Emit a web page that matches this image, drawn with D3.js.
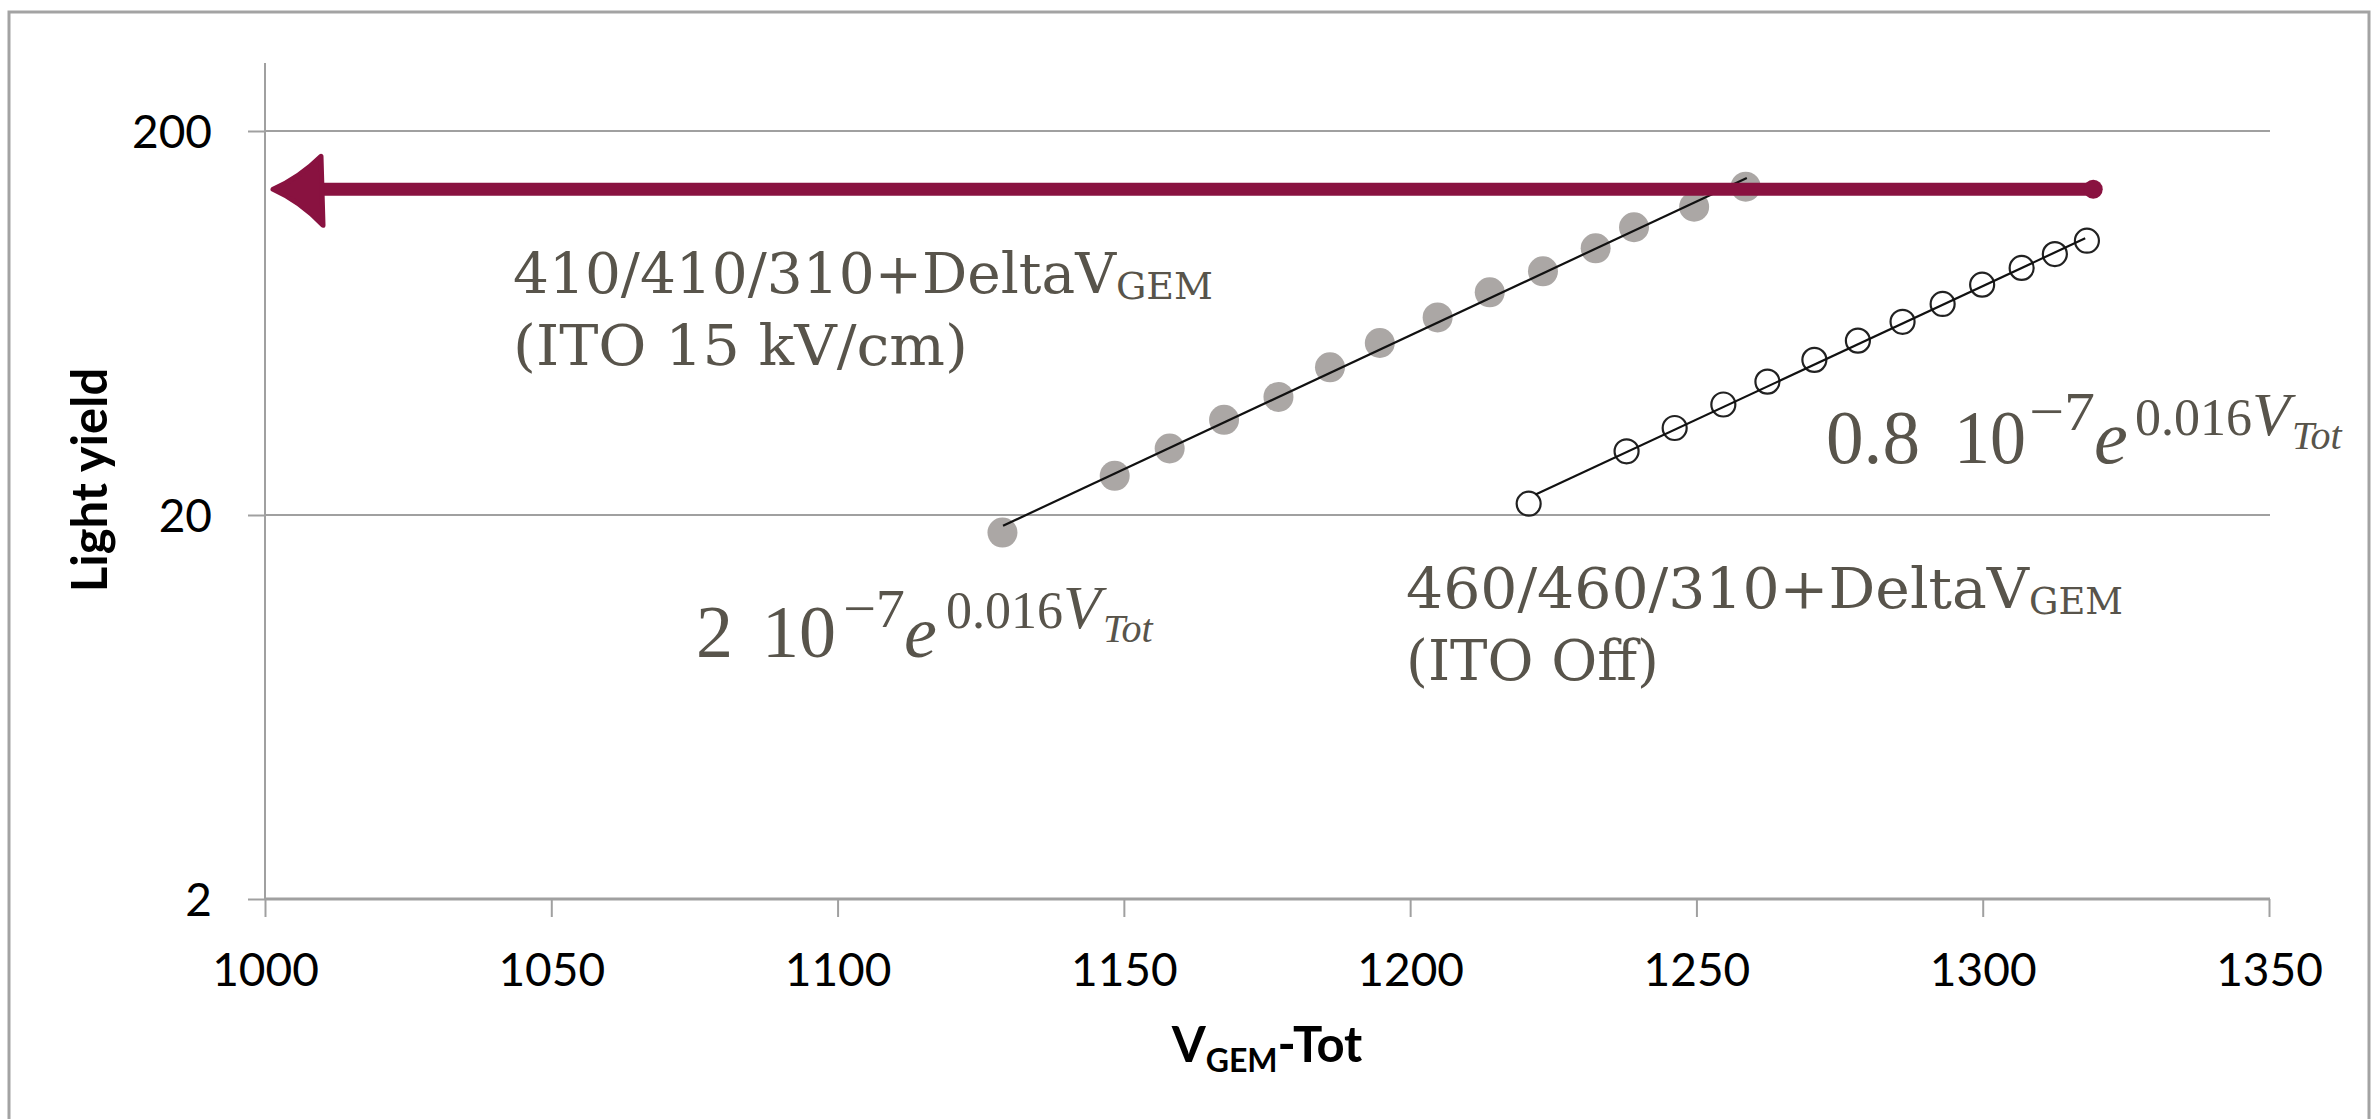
<!DOCTYPE html>
<html>
<head>
<meta charset="utf-8">
<script src="https://cdn.jsdelivr.net/npm/d3@7"></script>
<style>
  html, body { margin: 0; padding: 0; background: #fff; }
  svg { display: block; }
</style>
</head>
<body>
<svg id="chart" width="2377" height="1119"></svg>
<script>
// ---- data ----
const xTicks = [1000, 1050, 1100, 1150, 1200, 1250, 1300, 1350];
const yTicks = [2, 20, 200];

// 410/410/310 + DeltaV_GEM, ITO at 15 kV/cm (filled grey markers)
const ito15Volt  = [1128.8, 1148.4, 1158.0, 1167.5, 1177.0, 1186.0, 1194.7, 1204.8, 1213.9, 1223.2, 1232.4, 1239.1, 1249.6, 1258.6];
const ito15Yield = [18.0, 25.3, 29.8, 35.4, 40.6, 48.5, 56.1, 65.4, 76.0, 86.2, 99.0, 112.3, 127.0, 143.2];

// 460/460/310 + DeltaV_GEM, ITO off (open markers)
const itoOffVolt  = [1220.7, 1237.8, 1246.2, 1254.7, 1262.4, 1270.6, 1278.2, 1286.0, 1293.0, 1299.9, 1306.8, 1312.6, 1318.2];
const itoOffYield = [21.4, 29.3, 33.7, 38.8, 44.5, 50.7, 56.9, 63.7, 70.9, 79.6, 88.0, 95.6, 103.6];

// exponential trend lines (straight on the log axis), end points
const ito15FitVolt   = [1128.9, 1258.8];
const ito15FitYield  = [18.75, 150.9];
const itoOffFitVolt  = [1221.9, 1317.9];
const itoOffFitYield = [22.6, 105.1];

// hand-drawn arrow: light-yield level and voltage span (head at the low end)
const arrowYield = 141;
const arrowVolt  = [1320, 1001.4];

// ---- layout ----
const svg = d3.select("#chart");
const W = 2377, H = 1119;
const plotTop = 63;
const x = d3.scaleLinear().domain([xTicks[0], xTicks[xTicks.length - 1]]).range([265, 2269]);
const y = d3.scaleLog().domain([yTicks[0], yTicks[yTicks.length - 1]]).range([899, 131]);

const axisGrey = "#a0a0a0";
const noteColor = "#58544b";
const sansFont = "Lato, 'Open Sans', sans-serif";
const slabFont = "'DejaVu Serif', serif";
const mathFont = "'Liberation Serif', 'Times New Roman', serif";

svg.append("rect").attr("width", W).attr("height", H).attr("fill", "#fff");

// outer frame
svg.append("rect")
  .attr("x", 9).attr("y", 12).attr("width", 2360).attr("height", 1130)
  .attr("fill", "none").attr("stroke", "#a3a3a3").attr("stroke-width", 3);

// horizontal grid lines (the lowest one doubles as the x axis)
svg.append("g").selectAll("line").data(yTicks).join("line")
  .attr("x1", x.range()[0]).attr("x2", x.range()[1] + 1)
  .attr("y1", d => y(d)).attr("y2", d => y(d))
  .attr("stroke", axisGrey)
  .attr("stroke-width", d => d === yTicks[0] ? 3 : 2);

// vertical axis line
svg.append("line")
  .attr("x1", x.range()[0]).attr("x2", x.range()[0])
  .attr("y1", plotTop).attr("y2", y(yTicks[0]))
  .attr("stroke", axisGrey).attr("stroke-width", 2);

// x axis ticks + labels
const gx = svg.append("g")
  .attr("transform", `translate(0,${y(yTicks[0])})`)
  .call(d3.axisBottom(x).tickValues(xTicks).tickFormat(d3.format("d"))
    .tickSize(18).tickSizeOuter(0).tickPadding(36));
gx.select(".domain").remove();
gx.selectAll(".tick line").attr("stroke", axisGrey).attr("stroke-width", 2);
gx.selectAll(".tick text")
  .attr("fill", "#000").attr("font-family", sansFont).attr("font-size", 46);

// y axis ticks + labels
const gy = svg.append("g")
  .attr("transform", `translate(${x.range()[0]},0)`)
  .call(d3.axisLeft(y).tickValues(yTicks).tickFormat(d3.format("d"))
    .tickSize(17).tickSizeOuter(0).tickPadding(36));
gy.select(".domain").remove();
gy.selectAll(".tick line").attr("stroke", axisGrey).attr("stroke-width", 2);
gy.selectAll(".tick text")
  .attr("fill", "#000").attr("font-family", sansFont).attr("font-size", 46)
  .attr("dy", "0.36em");

// axis titles
svg.append("text")
  .attr("transform", `translate(107,480) rotate(-90)`)
  .attr("text-anchor", "middle")
  .attr("font-family", sansFont).attr("font-weight", 700).attr("font-size", 49)
  .attr("fill", "#000")
  .text("Light yield");

const xTitle = svg.append("text")
  .attr("x", (x.range()[0] + x.range()[1]) / 2).attr("y", 1062)
  .attr("text-anchor", "middle")
  .attr("font-family", sansFont).attr("font-weight", 700).attr("font-size", 49)
  .attr("fill", "#000");
xTitle.append("tspan").text("V");
xTitle.append("tspan").attr("font-size", 32).attr("dy", 10).text("GEM");
xTitle.append("tspan").attr("dy", -10).text("-Tot");

// ---- series ----
const ito15 = ito15Volt.map((v, i) => [v, ito15Yield[i]]);
const itoOff = itoOffVolt.map((v, i) => [v, itoOffYield[i]]);

svg.append("g").selectAll("circle").data(ito15).join("circle")
  .attr("cx", d => x(d[0])).attr("cy", d => y(d[1])).attr("r", 15)
  .attr("fill", "#aba7a5");

svg.append("g").selectAll("circle").data(itoOff).join("circle")
  .attr("cx", d => x(d[0])).attr("cy", d => y(d[1])).attr("r", 12)
  .attr("fill", "none").attr("stroke", "#222").attr("stroke-width", 2.2);

const line = d3.line().x(d => x(d[0])).y(d => y(d[1]));
[[ito15FitVolt, ito15FitYield], [itoOffFitVolt, itoOffFitYield]].forEach(([vs, ys]) => {
  svg.append("path")
    .datum(vs.map((v, i) => [v, ys[i]]))
    .attr("d", line)
    .attr("fill", "none").attr("stroke", "#111").attr("stroke-width", 2.2);
});

// ---- arrow ----
const arrowColor = "#891240";
const ay = y(arrowYield);
const xTail = x(arrowVolt[0]);
const xTip = x(arrowVolt[1]);
svg.append("line")
  .attr("x1", xTip + 30).attr("x2", xTail - 4)
  .attr("y1", ay).attr("y2", ay)
  .attr("stroke", arrowColor).attr("stroke-width", 13).attr("stroke-linecap", "round");
svg.append("circle").attr("cx", xTail - 4).attr("cy", ay).attr("r", 9.5).attr("fill", arrowColor);
svg.append("path")
  .attr("d", `M${xTip},${ay} Q${xTip + 27},${ay - 12} ${xTip + 48},${ay - 33}
              L${xTip + 50},${ay + 36} Q${xTip + 27},${ay + 12} ${xTip},${ay} Z`)
  .attr("fill", arrowColor).attr("stroke", arrowColor)
  .attr("stroke-width", 5).attr("stroke-linejoin", "round");

// ---- annotations ----
function slabLabel(x0, base, main, mainW, subX, subW, second, secondW) {
  const g = svg.append("g").attr("fill", noteColor).attr("font-family", slabFont);
  g.append("text").attr("x", x0).attr("y", base).attr("font-size", 56)
    .attr("textLength", mainW).attr("lengthAdjust", "spacingAndGlyphs").text(main);
  g.append("text").attr("x", subX).attr("y", base + 6).attr("font-size", 38)
    .attr("textLength", subW).attr("lengthAdjust", "spacingAndGlyphs").text("GEM");
  g.append("text").attr("x", x0).attr("y", base + 72).attr("font-size", 56)
    .attr("textLength", secondW).attr("lengthAdjust", "spacingAndGlyphs").text(second);
}
slabLabel(513, 293, "410/410/310+DeltaV", 603, 1116, 97, "(ITO 15 kV/cm)", 455);
slabLabel(1406, 608, "460/460/310+DeltaV", 623, 2029, 94, "(ITO Off)", 253);

// fit formula: coefficient · 10^-7 · e^(0.016 V_Tot)
function formula(x0, base, pieces, expDx, expDy) {
  const g = svg.append("g").attr("fill", noteColor).attr("font-family", mathFont);
  pieces.forEach(p => {
    const t = g.append("text")
      .attr("x", x0 + p.dx).attr("y", base + (p.dy || 0))
      .attr("font-size", p.fs)
      .attr("font-style", p.it ? "italic" : "normal")
      .text(p.t);
    if (p.w) t.attr("textLength", p.w).attr("lengthAdjust", "spacingAndGlyphs");
  });
  // exponent as one text run: 0.016 V_Tot
  const ex = g.append("text")
    .attr("x", x0 + expDx).attr("y", base + expDy)
    .attr("font-size", 52);
  ex.append("tspan").text("0.016");
  ex.append("tspan").attr("font-style", "italic").attr("font-size", 62).text("V");
  ex.append("tspan").attr("font-style", "italic").attr("font-size", 40)
    .attr("dx", 2).attr("dy", 14).text("Tot");
}
formula(696, 657, [
  { t: "2", dx: 0, fs: 74 },
  { t: "10", dx: 66, w: 74, fs: 74 },
  { t: "\u22127", dx: 147, w: 62, dy: -30, fs: 55 },
  { t: "e", dx: 208, fs: 74, it: true }
], 250, -29);
formula(1826, 463, [
  { t: "0.8", dx: 0, w: 94, fs: 76 },
  { t: "10", dx: 128, w: 72, fs: 76 },
  { t: "\u22127", dx: 203, w: 66, dy: -33, fs: 55 },
  { t: "e", dx: 268, fs: 76, it: true }
], 309, -28);
</script>
</body>
</html>
